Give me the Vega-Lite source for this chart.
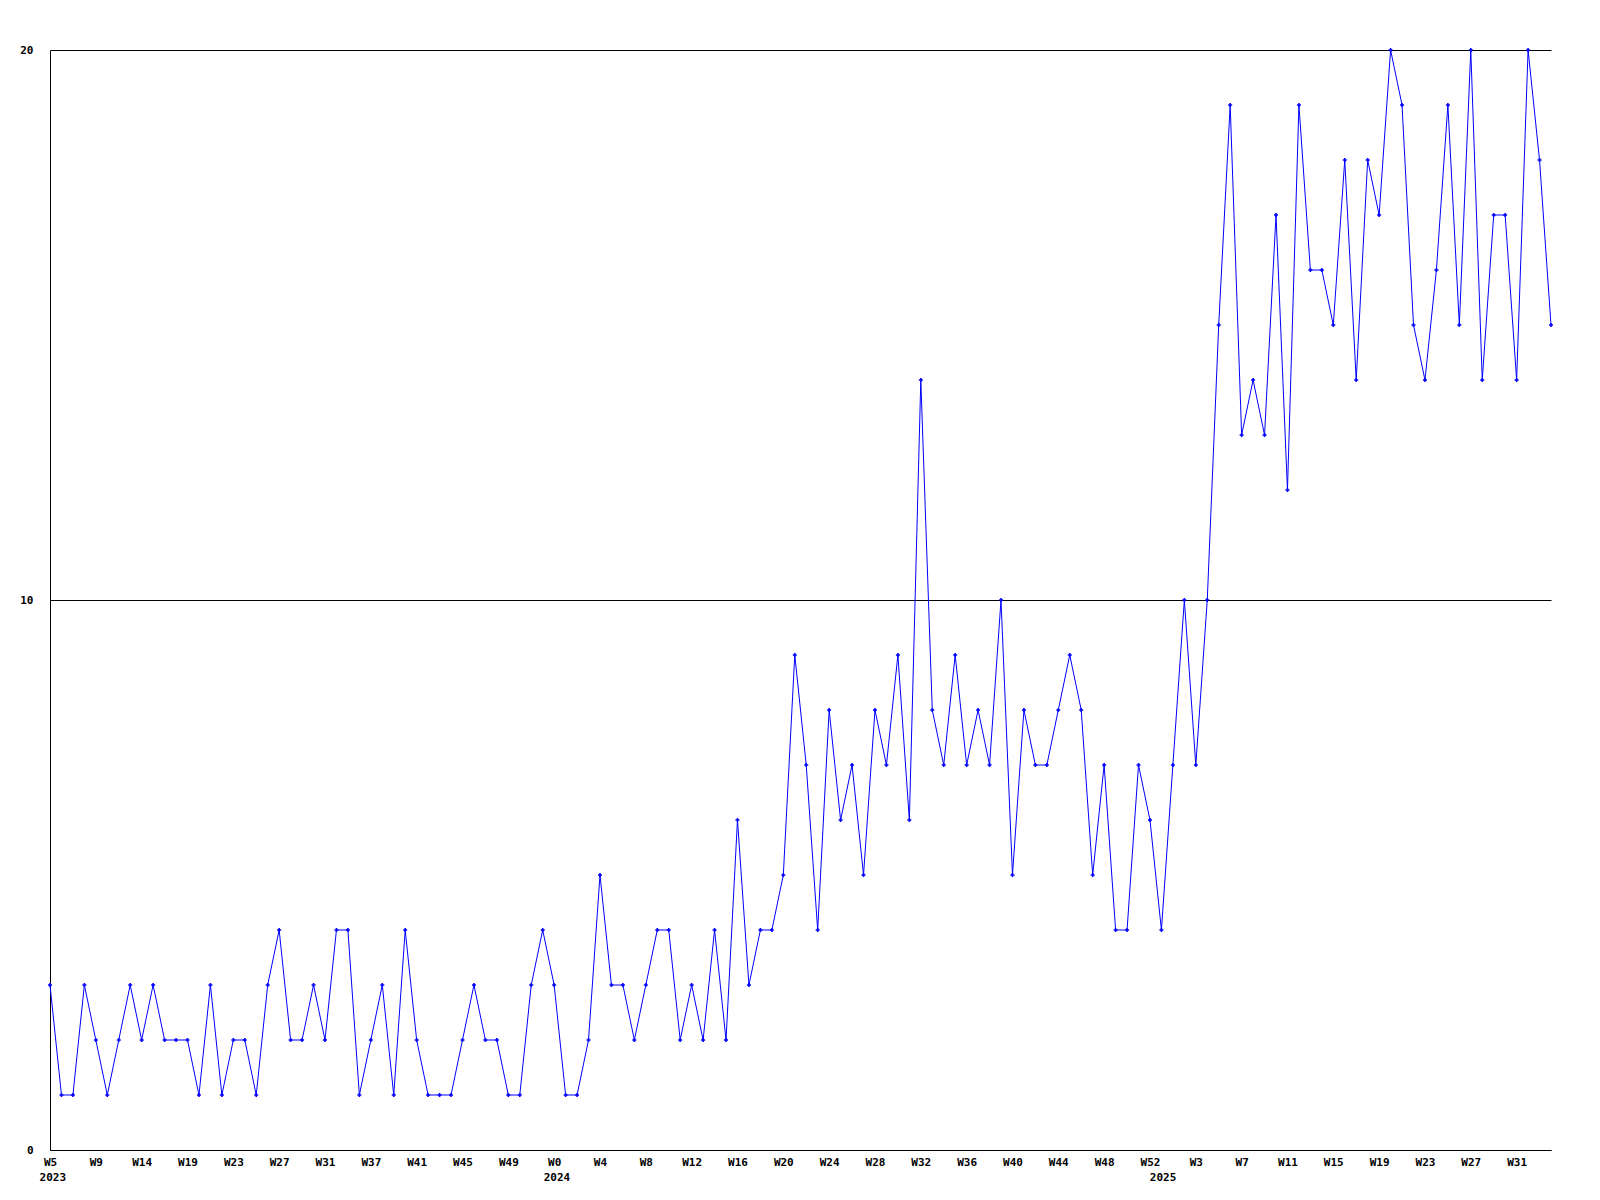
{
  "$schema": "https://vega.github.io/schema/vega-lite/v6.json",
  "autosize": {"type": "none"},
  "padding": {"left": 50, "top": 50, "right": 49, "bottom": 50},
  "width": 1501,
  "height": 1100,
  "background": "white",
  "config": {
    "view": {"stroke": null},
    "axis": {
      "labelFont": "DejaVu Sans Mono",
      "labelFontWeight": "bold",
      "labelFontSize": 11,
      "labelColor": "black",
      "domainColor": "black",
      "domainWidth": 1,
      "ticks": false,
      "title": null
    }
  },
  "data": {
    "values": [
      {"w": 0, "v": 3}, {"w": 1, "v": 1}, {"w": 2, "v": 1}, {"w": 3, "v": 3}, {"w": 4, "v": 2},
      {"w": 5, "v": 1}, {"w": 6, "v": 2}, {"w": 7, "v": 3}, {"w": 8, "v": 2}, {"w": 9, "v": 3},
      {"w": 10, "v": 2}, {"w": 11, "v": 2}, {"w": 12, "v": 2}, {"w": 13, "v": 1}, {"w": 14, "v": 3},
      {"w": 15, "v": 1}, {"w": 16, "v": 2}, {"w": 17, "v": 2}, {"w": 18, "v": 1}, {"w": 19, "v": 3},
      {"w": 20, "v": 4}, {"w": 21, "v": 2}, {"w": 22, "v": 2}, {"w": 23, "v": 3}, {"w": 24, "v": 2},
      {"w": 25, "v": 4}, {"w": 26, "v": 4}, {"w": 27, "v": 1}, {"w": 28, "v": 2}, {"w": 29, "v": 3},
      {"w": 30, "v": 1}, {"w": 31, "v": 4}, {"w": 32, "v": 2}, {"w": 33, "v": 1}, {"w": 34, "v": 1},
      {"w": 35, "v": 1}, {"w": 36, "v": 2}, {"w": 37, "v": 3}, {"w": 38, "v": 2}, {"w": 39, "v": 2},
      {"w": 40, "v": 1}, {"w": 41, "v": 1}, {"w": 42, "v": 3}, {"w": 43, "v": 4}, {"w": 44, "v": 3},
      {"w": 45, "v": 1}, {"w": 46, "v": 1}, {"w": 47, "v": 2}, {"w": 48, "v": 5}, {"w": 49, "v": 3},
      {"w": 50, "v": 3}, {"w": 51, "v": 2}, {"w": 52, "v": 3}, {"w": 53, "v": 4}, {"w": 54, "v": 4},
      {"w": 55, "v": 2}, {"w": 56, "v": 3}, {"w": 57, "v": 2}, {"w": 58, "v": 4}, {"w": 59, "v": 2},
      {"w": 60, "v": 6}, {"w": 61, "v": 3}, {"w": 62, "v": 4}, {"w": 63, "v": 4}, {"w": 64, "v": 5},
      {"w": 65, "v": 9}, {"w": 66, "v": 7}, {"w": 67, "v": 4}, {"w": 68, "v": 8}, {"w": 69, "v": 6},
      {"w": 70, "v": 7}, {"w": 71, "v": 5}, {"w": 72, "v": 8}, {"w": 73, "v": 7}, {"w": 74, "v": 9},
      {"w": 75, "v": 6}, {"w": 76, "v": 14}, {"w": 77, "v": 8}, {"w": 78, "v": 7}, {"w": 79, "v": 9},
      {"w": 80, "v": 7}, {"w": 81, "v": 8}, {"w": 82, "v": 7}, {"w": 83, "v": 10}, {"w": 84, "v": 5},
      {"w": 85, "v": 8}, {"w": 86, "v": 7}, {"w": 87, "v": 7}, {"w": 88, "v": 8}, {"w": 89, "v": 9},
      {"w": 90, "v": 8}, {"w": 91, "v": 5}, {"w": 92, "v": 7}, {"w": 93, "v": 4}, {"w": 94, "v": 4},
      {"w": 95, "v": 7}, {"w": 96, "v": 6}, {"w": 97, "v": 4}, {"w": 98, "v": 7}, {"w": 99, "v": 10},
      {"w": 100, "v": 7}, {"w": 101, "v": 10}, {"w": 102, "v": 15}, {"w": 103, "v": 19}, {"w": 104, "v": 13},
      {"w": 105, "v": 14}, {"w": 106, "v": 13}, {"w": 107, "v": 17}, {"w": 108, "v": 12}, {"w": 109, "v": 19},
      {"w": 110, "v": 16}, {"w": 111, "v": 16}, {"w": 112, "v": 15}, {"w": 113, "v": 18}, {"w": 114, "v": 14},
      {"w": 115, "v": 18}, {"w": 116, "v": 17}, {"w": 117, "v": 20}, {"w": 118, "v": 19}, {"w": 119, "v": 15},
      {"w": 120, "v": 14}, {"w": 121, "v": 16}, {"w": 122, "v": 19}, {"w": 123, "v": 15}, {"w": 124, "v": 20},
      {"w": 125, "v": 14}, {"w": 126, "v": 17}, {"w": 127, "v": 17}, {"w": 128, "v": 14}, {"w": 129, "v": 20},
      {"w": 130, "v": 18}, {"w": 131, "v": 15}
    ]
  },
  "layer": [
    {
      "mark": {
        "type": "line",
        "color": "#0000ff",
        "strokeWidth": 1,
        "point": {"shape": "cross", "size": 16, "filled": true, "color": "#0000ff"}
      },
      "encoding": {
        "x": {
          "field": "w",
          "type": "quantitative",
          "scale": {"domain": [0, 131], "nice": false, "zero": false},
          "axis": {
            "orient": "bottom",
            "values": [0, 4, 8, 12, 16, 20, 24, 28, 32, 36, 40, 44, 48, 52, 56, 60, 64, 68, 72, 76, 80, 84, 88, 92, 96, 100, 104, 108, 112, 116, 120, 124, 128],
            "labelExpr": "['W5','W9','W14','W19','W23','W27','W31','W37','W41','W45','W49','W0','W4','W8','W12','W16','W20','W24','W28','W32','W36','W40','W44','W48','W52','W3','W7','W11','W15','W19','W23','W27','W31'][round(datum.value/4)]",
            "labelPadding": 6,
            "labelFlush": false,
            "labelOverlap": false,
            "labelAlign": "center",
            "grid": false
          }
        },
        "y": {
          "field": "v",
          "type": "quantitative",
          "scale": {"domain": [0, 20], "nice": false, "zero": true},
          "axis": {
            "values": [0, 10, 20],
            "grid": true,
            "gridColor": "black",
            "gridOpacity": 1,
            "gridWidth": 1,
            "labelPadding": 17,
            "labelOverlap": false,
            "labelFlush": false
          }
        }
      }
    },
    {
      "mark": {"type": "point", "opacity": 0},
      "encoding": {
        "x": {
          "field": "w",
          "type": "quantitative",
          "axis": {
            "orient": "bottom",
            "offset": 15,
            "domain": false,
            "values": [0.2, 44.2, 97.1],
            "labelExpr": "datum.value < 10 ? '2023' : datum.value < 60 ? '2024' : '2025'",
            "labelPadding": 6,
            "labelFlush": false,
            "labelOverlap": false,
            "labelAlign": "center",
            "grid": false
          }
        }
      }
    }
  ],
  "resolve": {"axis": {"x": "independent"}}
}
